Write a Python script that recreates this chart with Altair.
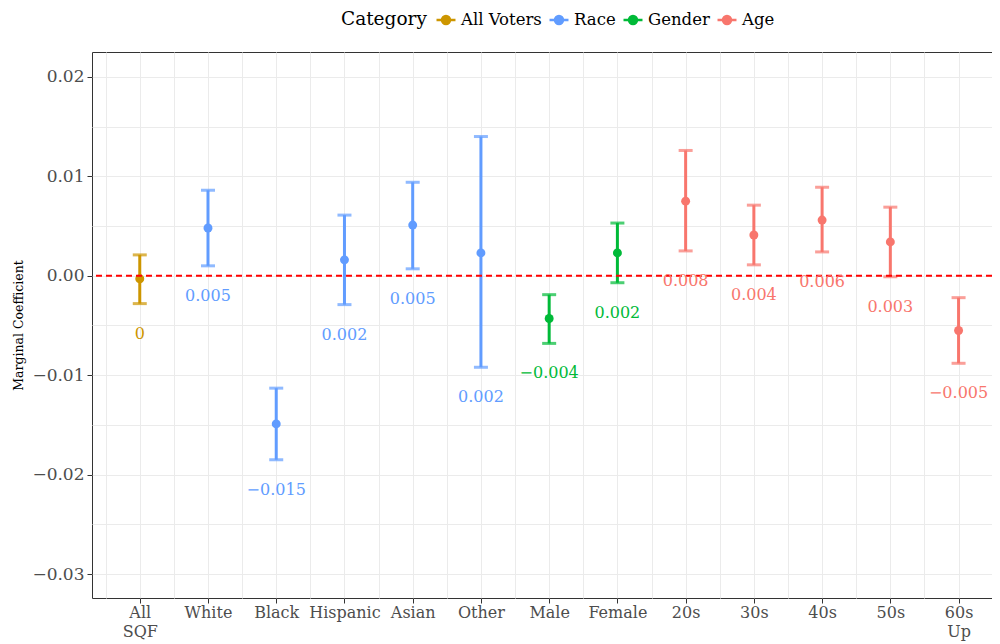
import json
import altair as alt
import pandas as pd

categories = ["All SQF", "White", "Black", "Hispanic", "Asian", "Other", "Male",
              "Female", "20s", "30s", "40s", "50s", "60s Up"]
tick_labels = ["All|SQF", "White", "Black", "Hispanic", "Asian", "Other", "Male",
               "Female", "20s", "30s", "40s", "50s", "60s|Up"]
groups = ["All Voters", "Race", "Race", "Race", "Race", "Race", "Gender",
          "Gender", "Age", "Age", "Age", "Age", "Age"]
estimates = [-0.0003, 0.0048, -0.0149, 0.0016, 0.0051, 0.0023, -0.0043,
             0.0023, 0.0075, 0.0041, 0.0056, 0.0034, -0.0055]
lowers = [-0.0028, 0.0010, -0.0185, -0.0029, 0.0007, -0.0092, -0.0068,
          -0.0007, 0.0025, 0.0011, 0.0024, -0.0001, -0.0088]
uppers = [0.0021, 0.0086, -0.0113, 0.0061, 0.0094, 0.0140, -0.0019,
          0.0053, 0.0126, 0.0071, 0.0089, 0.0069, -0.0022]
value_labels = ["0", "0.005", "\u22120.015", "0.002", "0.005", "0.002", "\u22120.004",
                "0.002", "0.008", "0.004", "0.006", "0.003", "\u22120.005"]
group_order = ["All Voters", "Race", "Gender", "Age"]
group_colors = ["#CD9600", "#619CFF", "#00BA38", "#F8766D"]

FONT = "DejaVu Serif"

df = pd.DataFrame({
    "idx": list(range(1, len(categories) + 1)),
    "category": categories,
    "group": groups,
    "est": estimates,
    "lo": lowers,
    "hi": uppers,
    "label": value_labels,
})

x_values = [k / 2 for k in range(1, 2 * len(categories) + 1)]
y_values = [round(-0.03 + 0.005 * k, 3) for k in range(0, 11)]

label_expr = ("datum.value % 1 == 0 ? split(" + json.dumps(tick_labels)
              + "[datum.value - 1], '|') : ''")

x_enc = alt.X(
    "idx:Q",
    scale=alt.Scale(domain=[0.3, 13.49], nice=False, zero=False),
    axis=alt.Axis(
        values=x_values, title=None, labelExpr=label_expr, domain=False,
        grid=True, gridColor="#EBEBEB", gridWidth=1,
        tickColor={"condition": {"test": "datum.value % 1 != 0", "value": "transparent"},
                   "value": "#333333"},
        tickSize=5, labelFont=FONT, labelFontSize=16, labelColor="#4D4D4D",
        labelPadding=1, labelLineHeight=19, labelFlush=False, labelOverlap=False,
    ),
)

y_test = "abs(round(datum.value * 1000)) % 10 != 0"
y_scale = alt.Scale(domain=[-0.0324, 0.0225], nice=False, zero=False)
y_axis = alt.Axis(
    values=y_values, title="Marginal Coefficient", domain=False,
    labelExpr="abs(round(datum.value * 1000)) % 10 == 0 ? format(datum.value, '.2f') : ''",
    grid=True, gridColor="#EBEBEB", gridWidth=1,
    tickColor={"condition": {"test": y_test, "value": "transparent"}, "value": "#333333"},
    tickSize=5, labelFont=FONT, labelFontSize=17, labelColor="#4D4D4D", labelPadding=3,
    titleFont=FONT, titleFontSize=12.5, titleFontWeight="normal", titleColor="#000000",
    titlePadding=6,
)

color_leg = alt.Color(
    "group:N",
    scale=alt.Scale(domain=group_order, range=group_colors),
    legend=alt.Legend(
        title="Category", orient="none", legendX=249, legendY=-43,
        direction="horizontal", titleOrient="left",
        titleFont=FONT, titleFontSize=18.5, titleFontWeight="normal", titleColor="#000000",
        labelFont=FONT, labelFontSize=16.5, labelColor="#000000",
        symbolType="M-1,0H1M-0.42,0A0.42,0.42 0 1 1 0.42,0A0.42,0.42 0 1 1 -0.42,0Z",
        symbolSize=360, symbolStrokeWidth=2.5, symbolOpacity=1,
        columnPadding=2, labelOffset=4, titlePadding=8,
    ),
)
color_none = alt.Color("group:N", scale=alt.Scale(domain=group_order, range=group_colors),
                       legend=None)

base = alt.Chart(df)

bars = base.mark_rule(strokeWidth=3).encode(
    x=x_enc, y=alt.Y("lo:Q", scale=y_scale, axis=y_axis), y2="hi:Q", color=color_leg)
cap_lo = base.mark_tick(orient="horizontal", size=14, thickness=3).encode(
    x=x_enc, y=alt.Y("lo:Q"), color=color_none)
cap_hi = base.mark_tick(orient="horizontal", size=14, thickness=3).encode(
    x=x_enc, y=alt.Y("hi:Q"), color=color_none)
points = base.mark_circle(size=80, opacity=1).encode(
    x=x_enc, y=alt.Y("est:Q"), color=color_none)
zero = alt.Chart(pd.DataFrame({"z": [0.0]})).mark_rule(
    color="#FF0000", strokeDash=[6, 4], strokeWidth=2, opacity=1).encode(y="z:Q")
texts = base.mark_text(dy=30, fontSize=16, font=FONT).encode(
    x=x_enc, y=alt.Y("lo:Q"), text="label:N", color=color_none)

chart = alt.layer(bars, cap_lo, cap_hi, points, zero, texts).properties(
    width=900, height=546,
    autosize=alt.AutoSizeParams(type="none"),
    padding={"left": 84, "top": 44, "right": 0, "bottom": 46},
    background="#FFFFFF",
).configure_view(stroke="#333333", strokeWidth=1)

chart.save("out.html", embed_options={"renderer": "svg", "actions": False})
